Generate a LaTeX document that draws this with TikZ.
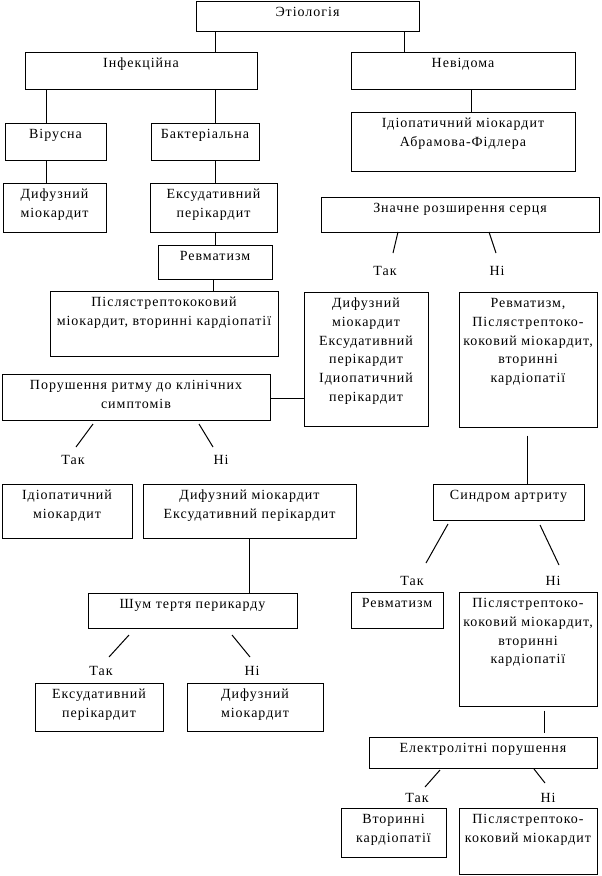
\documentclass[tikz,border=0pt]{standalone}
\usepackage{fontspec}
\setmainfont{Liberation Serif}[LetterSpace=7]
\usetikzlibrary{fit}
\tikzset{
  bx/.style={draw, line width=0.75pt, inner sep=0pt},
  txt/.style={anchor=north, inner sep=0pt, align=center, font=\fontsize{10.5pt}{14pt}\selectfont},
  lab/.style={anchor=base, inner sep=0pt, font=\fontsize{10.5pt}{14pt}\selectfont},
  ln/.style={line width=0.75pt},
}
\newcommand\mybox[6]{%
  \node[bx, fit={(#2,#3) (#4,#5)}] (#1) {};
  \node[txt] (#1t) at ([yshift=-2pt]#1.north) {\rule{0pt}{10pt}#6};
}
\begin{document}
\begin{tikzpicture}[x=0.75pt,y=-0.75pt]
\useasboundingbox (0,0) rectangle (602,876);
% boxes
\mybox{et}{196}{1}{419}{31}{Этіологія}
\mybox{inf}{25}{52}{257}{89}{Інфекційна}
\mybox{nev}{351}{52}{575}{89}{Невідома}
\mybox{abr}{351}{112}{575}{171}{Ідіопатичний міокардит\\Абрамова-Фідлера}
\mybox{vir}{5}{123}{106}{160}{Вірусна}
\mybox{bak}{151}{123}{259}{160}{Бактеріальна}
\mybox{dif1}{3}{183}{106}{232}{Дифузний\\міокардит}
\mybox{eks1}{150}{183}{277}{232}{Ексудативний\\перікардит}
\mybox{rev1}{158}{245}{272}{279}{Ревматизм}
\mybox{pis1}{50}{291}{278}{356}{Післястрептококовий\\міокардит, вторинні кардіопатії}
\mybox{zn}{321}{197}{599}{232}{Значне розширення серця}
\mybox{dif2}{304}{292}{428}{426}{Дифузний\\міокардит\\Ексудативний\\перікардит\\Ідиопатичний\\перікардит}
\mybox{rev2}{459}{292}{597}{427}{Ревматизм,\\Післястрептоко-\\коковий міокардит,\\вторинні\\кардіопатії}
\mybox{por}{2}{374}{270}{420}{Порушення ритму до клінічних\\симптомів}
\mybox{idi}{2}{484}{132}{538}{Ідіопатичний\\міокардит}
\mybox{dif3}{143}{484}{356}{538}{Дифузний міокардит\\Ексудативний перікардит}
\mybox{shum}{88}{593}{297}{628}{Шум тертя перикарду}
\mybox{eks2}{35}{683}{163}{731}{Ексудативний\\перікардит}
\mybox{dif4}{187}{683}{323}{731}{Дифузний\\міокардит}
\mybox{sin}{433}{484}{584}{520}{Синдром артриту}
\mybox{rev3}{351}{592}{443}{628}{Ревматизм}
\mybox{pis2}{459}{592}{597}{706}{Післястрептоко-\\коковий міокардит,\\вторинні\\кардіопатії}
\mybox{el}{369}{737}{597}{768}{Електролітні порушення}
\mybox{vt}{341}{808}{446}{857}{Вторинні\\кардіопатії}
\mybox{pis3}{459}{808}{597}{874}{Післястрептоко-\\коковий міокардит}
% labels
\node[lab] (t1) at (385,275) {Так};
\node[lab] (n1) at (497,275) {Ні};
\node[lab] (t2) at (73,464) {Так};
\node[lab] (n2) at (221,464) {Ні};
\node[lab] (t3) at (412,585) {Так};
\node[lab] (n3) at (553,585) {Ні};
\node[lab] (t4) at (101,675) {Так};
\node[lab] (n4) at (252,675) {Ні};
\node[lab] (t5) at (417,802) {Так};
\node[lab] (n5) at (548,802) {Ні};
% x / y references
\coordinate (x46) at (46,0);
\coordinate (x213) at (213,0);
\coordinate (x215) at (215,0);
\coordinate (x404) at (404,0);
\coordinate (x471) at (471,0);
\coordinate (x249) at (249,0);
\coordinate (x527) at (527,0);
\coordinate (x544) at (544,0);
\coordinate (y398) at (0,398);
% vertical connectors
\draw[ln] (x215 |- et.south) -- (x215 |- inf.north);
\draw[ln] (x404 |- et.south) -- (x404 |- nev.north);
\draw[ln] (x471 |- nev.south) -- (x471 |- abr.north);
\draw[ln] (x46 |- inf.south) -- (x46 |- vir.north);
\draw[ln] (x215 |- inf.south) -- (x215 |- bak.north);
\draw[ln] (x46 |- vir.south) -- (x46 |- dif1.north);
\draw[ln] (x215 |- bak.south) -- (x215 |- eks1.north);
\draw[ln] (x215 |- eks1.south) -- (x215 |- rev1.north);
\draw[ln] (x213 |- rev1.south) -- (x213 |- pis1.north);
\draw[ln] (por.east |- y398) -- (dif2.west |- y398);
\draw[ln] (x249 |- dif3.south) -- (x249 |- shum.north);
\draw[ln, shorten <=6pt] (x527 |- rev2.south) -- (x527 |- sin.north);
\draw[ln, shorten <=3pt, shorten >=3pt] (x544 |- pis2.south) -- (x544 |- el.north);
% decision branches
\coordinate (za) at (398,232); \coordinate (zb) at (393,253);
\coordinate (zc) at (489,232); \coordinate (zd) at (496,253);
\draw[ln] (za) -- (zb); \draw[ln] (zc) -- (zd);
\coordinate (pa) at (93,424); \coordinate (pb) at (76,447);
\coordinate (pc) at (199,424); \coordinate (pd) at (213,447);
\draw[ln] (pa) -- (pb); \draw[ln] (pc) -- (pd);
\coordinate (sa) at (448,524); \coordinate (sb) at (426,563);
\coordinate (sc) at (540,525); \coordinate (sd) at (559,565);
\draw[ln] (sa) -- (sb); \draw[ln] (sc) -- (sd);
\coordinate (ha) at (129,635); \coordinate (hb) at (109,657);
\coordinate (hc) at (232,635); \coordinate (hd) at (250,657);
\draw[ln] (ha) -- (hb); \draw[ln] (hc) -- (hd);
\coordinate (ea) at (440,770); \coordinate (eb) at (425,787);
\coordinate (ec) at (534,769); \coordinate (ed) at (545,783);
\draw[ln] (ea) -- (eb); \draw[ln] (ec) -- (ed);
\end{tikzpicture}
\end{document}
